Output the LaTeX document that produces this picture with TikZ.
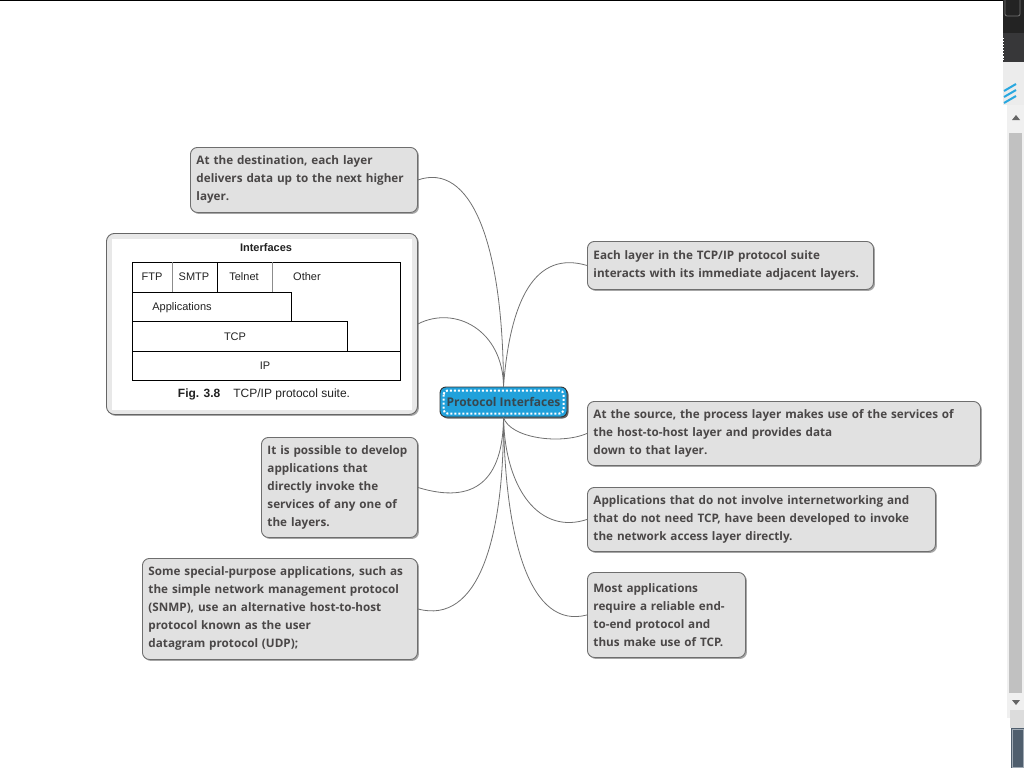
\documentclass[tikz,border=0pt]{standalone}
\usepackage{fontspec}
\setmainfont{Open Sans}
\newfontfamily\arialfont{Liberation Sans}
\usetikzlibrary{shadows}
\definecolor{notefill}{HTML}{E1E1E1}
\definecolor{noteline}{HTML}{6E6E6E}
\definecolor{notetext}{HTML}{4A4747}
\definecolor{linkcol}{HTML}{707070}
\definecolor{centerfill}{HTML}{21A1DB}
\definecolor{centertext}{HTML}{37474F}
\definecolor{tabtext}{HTML}{222222}
\tikzset{
  note/.style={draw=noteline, fill=notefill, rounded corners=7pt, line width=0.9pt,
    anchor=north west, inner xsep=6pt, inner ysep=4pt, align=left, text=notetext,
    font=\bfseries\fontsize{11.7}{18}\selectfont,
    drop shadow={shadow xshift=1.5pt, shadow yshift=-1.5pt, fill=black, opacity=0.35}},
  centre/.style={draw=black!80, fill=centerfill, rounded corners=6pt, line width=0.9pt,
    inner sep=0pt, text=centertext, font=\bfseries\fontsize{12}{14}\selectfont,
    drop shadow={shadow xshift=1.5pt, shadow yshift=-1.5pt, fill=black, opacity=0.6}},
  imgframe/.style={draw=black!60, fill=black!9, rounded corners=8pt, line width=0.9pt,
    anchor=north west, inner sep=0pt,
    drop shadow={shadow xshift=1.5pt, shadow yshift=-1.5pt, fill=black, opacity=0.35}},
  link/.style={draw=linkcol, line width=0.8pt},
  tab/.style={draw=black, line width=0.8pt},
  tabthin/.style={draw=black!45, line width=0.8pt},
  tabtxt/.style={inner sep=0pt, text=tabtext, font=\arialfont\fontsize{11}{13}\selectfont},
}
\begin{document}
\begin{tikzpicture}[x=1pt, y=-1pt]
\useasboundingbox (0,0) rectangle (1024,768);
% browser chrome
\fill[black] (0,0) rectangle (1003,1.5);
\fill[fill={rgb,255:red,35;green,35;blue,35}] (1003,0) rectangle (1024,33);
\draw[black!55, line width=0.8pt, rounded corners=2pt] (1005,-4) rectangle (1020,16);
\fill[fill={rgb,255:red,55;green,55;blue,57}] (1003,33) rectangle (1024,62);
\draw[white, line width=1pt, dash pattern=on 1.5pt off 1.5pt] (1003.5,38) -- (1003.5,60);
\fill[fill={rgb,255:red,236;green,236;blue,236}] (1003,62) rectangle (1024,105);
\foreach \o in {0,6,12}{
  \draw[color={rgb,255:red,41;green,168;blue,224}, line width=2pt] (1004,91+\o) -- (1016,84+\o);
}
\fill[fill={rgb,255:red,240;green,240;blue,240}] (1007,105) rectangle (1024,718);
\fill[black!60] (1012,120) -- (1020,120) -- (1016,115) -- cycle;
\fill[fill={rgb,255:red,193;green,193;blue,193}] (1009,133) rectangle (1022,693);
\fill[black!60] (1012,700) -- (1020,700) -- (1016,705) -- cycle;
\fill[fill={rgb,255:red,220;green,220;blue,220}] (1010,710) rectangle (1024,728);
\fill[fill={rgb,255:red,79;green,94;blue,109}] (1011,728) rectangle (1024,768);
\draw[color={rgb,255:red,160;green,170;blue,180}, line width=0.8pt] (1012,729) rectangle (1023,767);

% centre
\node[centre, minimum width=127pt, minimum height=30pt] (c) at (503.5,402) {Protocol Interfaces};
\draw[white, line width=2pt, dash pattern=on 2pt off 2pt, rounded corners=4pt] (443.5,390.5) rectangle (563.5,413.5);

% notes left
\node[note, minimum width=227pt, minimum height=65pt, text width=215pt] (dest) at (190,147)
  {At the destination, each layer\\delivers data up to the next higher\\layer.};
\node[imgframe, minimum width=311pt, minimum height=181pt] (img) at (106,233) {};
\node[note, minimum width=156pt, minimum height=100pt, text width=144pt] (poss) at (261,437)
  {It is possible to develop\\applications that\\directly invoke the\\services of any one of\\the layers.};
\node[note, minimum width=275pt, minimum height=101pt, text width=263pt] (spec) at (142,558)
  {Some special-purpose applications, such as\\the simple network management protocol\\(SNMP), use an alternative host-to-host\\protocol known as the user\\datagram protocol (UDP);};
% notes right
\node[note, minimum width=286pt, minimum height=48pt, text width=274pt] (each) at (587,241)
  {Each layer in the TCP/IP protocol suite\\interacts with its immediate adjacent layers.};
\node[note, minimum width=393pt, minimum height=64pt, text width=381pt] (src) at (587,401)
  {At the source, the process layer makes use of the services of\\the host-to-host layer and provides data\\down to that layer.};
\node[note, minimum width=348pt, minimum height=64pt, text width=336pt] (appl) at (587,487)
  {Applications that do not involve internetworking and\\that do not need TCP, have been developed to invoke\\the network access layer directly.};
\node[note, minimum width=158pt, minimum height=85pt, text width=146pt] (most) at (587,572)
  {Most applications\\require a reliable end-\\to-end protocol and\\thus make use of TCP.};

% image content
\fill[white] (112,239) rectangle (412,410);
\node[tabtxt, font=\arialfont\bfseries\fontsize{11}{13}\selectfont] (tIntf) at (266,247.5) {Interfaces};
\draw[tab] (132,262) rectangle (400,380);
\draw[tab] (132,292) -- (291,292) -- (291,321);
\draw[tab] (132,321) -- (347,321) -- (347,351);
\draw[tab] (132,351) -- (400,351);
\draw[tabthin] (172,262) -- (172,292);
\draw[tab] (217,262) -- (217,292);
\draw[tabthin] (272,262) -- (272,292);
\node[tabtxt] (tFTP) at (152,277) {FTP};
\node[tabtxt] (tSMTP) at (194,277) {SMTP};
\node[tabtxt] (tTel) at (244,277) {Telnet};
\node[tabtxt] (tOth) at (307,277) {Other};
\node[tabtxt] (tApp) at (182,308) {Applications};
\node[tabtxt] (tTCP) at (235,337) {TCP};
\node[tabtxt] (tIP) at (265,366) {IP};
\node[tabtxt, font=\arialfont\fontsize{12}{14}\selectfont] (tCap) at (264,394) {\textbf{Fig. 3.8}\hspace{13pt}TCP/IP protocol suite.};

% connectors
\draw[link] (dest.east) .. controls (470,162) and (503,240) .. (c.north);
\draw[link] (img.east) .. controls (455,305) and (503,330) .. (c.north);
\draw[link] (c.north) .. controls (510,300) and (535,250) .. (each.west);
\draw[link] (c.south) .. controls (510,438) and (560,445) .. (src.west);
\draw[link] (c.south) .. controls (505,490) and (540,535) .. (appl.west);
\draw[link] (c.south) .. controls (505,540) and (530,630) .. (most.west);
\draw[link] (c.south) .. controls (503,480) and (475,505) .. (poss.east);
\draw[link] (c.south) .. controls (504,540) and (478,625) .. (spec.east);
\end{tikzpicture}
\end{document}
